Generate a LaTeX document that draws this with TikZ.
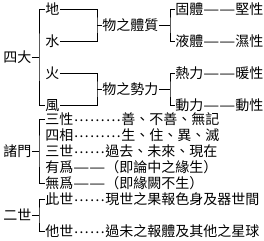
\documentclass[tikz,border=0pt]{standalone}
\usepackage{fontspec}
\newfontfamily\cjk{Noto Sans CJK TC}
\newcommand\myell{\makebox[16pt]{\raisebox{2.5pt}{…}}}
\newcommand\mydash{\resizebox{16pt}{\height}{—}}
\begin{document}
\begin{tikzpicture}[x=1pt,y=-1pt,line width=0.8pt,
  t/.style={anchor=west,inner sep=0pt,font=\cjk\fontsize{14pt}{14pt}\selectfont,text height=12.4pt,text depth=1.6pt}]
\useasboundingbox (0,0) rectangle (264,240);
% 四大
\node[t] (sida) at (3,57) {四大};
\node[t] (di) at (45,9) {地};
\node[t] (shui) at (45,41) {水};
\node[t] (huo) at (45,73) {火};
\node[t] (feng) at (45,105) {風};
\coordinate (b1) at (39,57);
\draw (sida.east) -- (b1);
\draw (di.west) -| (b1) |- (feng.west);
\node[t] (tizhi) at (102,25) {物之體質};
\node[t] (shili) at (102,89) {物之勢力};
\coordinate (b2) at (97,25);
\coordinate (b3) at (97,89);
\draw (di.east) -| (b2) |- (shui.east);
\draw (b2) -- (tizhi.west);
\draw (huo.east) -| (b3) |- (feng.east);
\draw (b3) -- (shili.west);
\node[t] (guti) at (175,9) {固體\mydash\mydash 堅性};
\node[t] (yeti) at (175,41) {液體\mydash\mydash 濕性};
\node[t] (reli) at (175,73) {熱力\mydash\mydash 暖性};
\node[t] (dongli) at (175,105) {動力\mydash\mydash 動性};
\coordinate (b4) at (170,25);
\coordinate (b5) at (170,89);
\draw (tizhi.east) -- (b4);
\draw (guti.west) -| (b4) |- (yeti.west);
\draw (shili.east) -- (b5);
\draw (reli.west) -| (b5) |- (dongli.west);
% 諸門
\node[t] (zhumen) at (3,151) {諸門};
\node[t] (r1) at (45,119) {三性\myell\myell\myell 善、不善、無記};
\node[t] (r2) at (45,135) {四相\myell\myell\myell 生、住、異、滅};
\node[t] (r3) at (45,151) {三世\myell\myell 過去、未來、現在};
\node[t] (r4) at (45,167) {有爲\mydash\mydash （即論中之緣生）};
\node[t] (r5) at (45,183) {無爲\mydash\mydash （即緣闕不生）};
\coordinate (b6) at (39,151);
\draw (zhumen.east) -- (b6);
\draw (r1.west) -| (b6) |- (r5.west);
% 二世
\node[t] (ershi) at (3,215) {二世};
\node[t] (r6) at (45,199) {此世\myell\myell 現世之果報色身及器世間};
\node[t] (r7) at (45,231) {他世\myell\myell 過未之報體及其他之星球};
\coordinate (b7) at (39,215);
\draw (ershi.east) -- (b7);
\draw (r6.west) -| (b7) |- (r7.west);
\end{tikzpicture}
\end{document}
